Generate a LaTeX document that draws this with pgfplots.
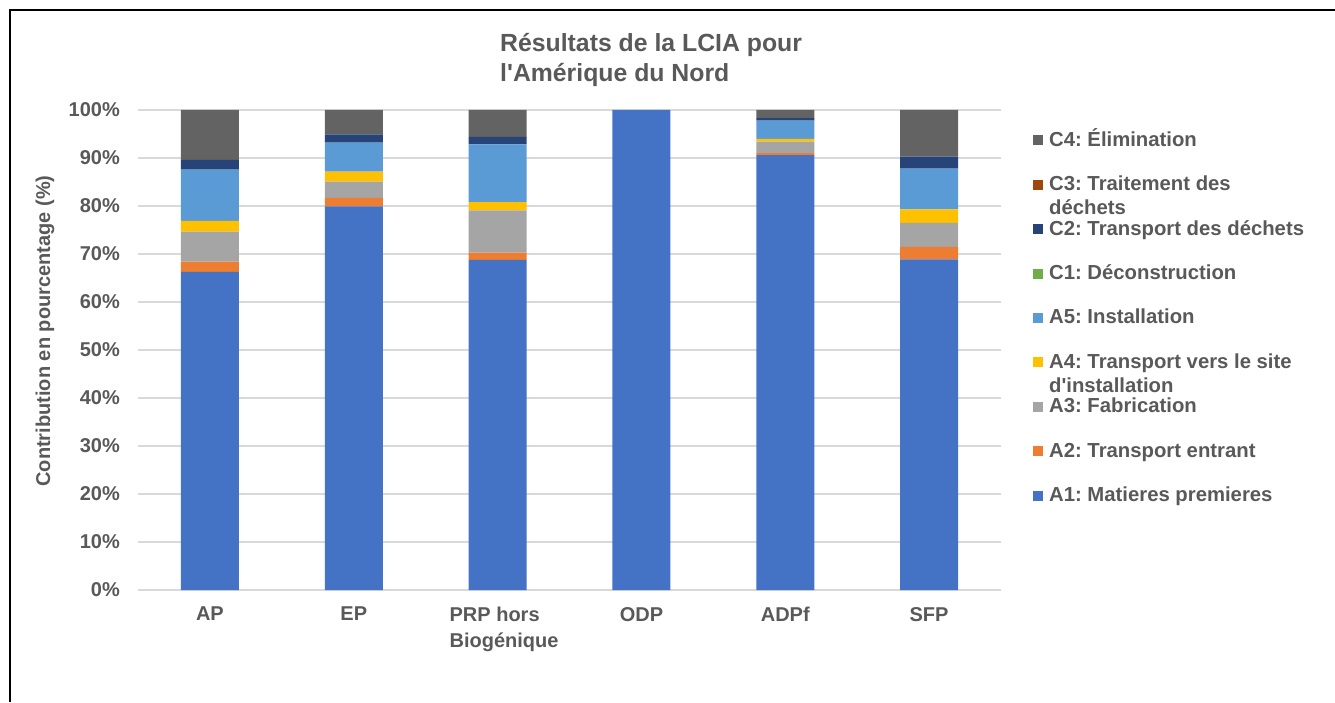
\documentclass[border=0pt]{standalone}
\usepackage{fontspec}
\setmainfont{Liberation Sans}
\usepackage{pgfplots}
\pgfplotsset{compat=1.18}
\frenchspacing
\definecolor{txt}{HTML}{595959}
\definecolor{gridc}{HTML}{D9D9D9}
\definecolor{cA1}{HTML}{4472C4}
\definecolor{cA2}{HTML}{ED7D31}
\definecolor{cA3}{HTML}{A5A5A5}
\definecolor{cA4}{HTML}{FFC000}
\definecolor{cA5}{HTML}{5B9BD5}
\definecolor{cC1}{HTML}{70AD47}
\definecolor{cC2}{HTML}{264478}
\definecolor{cC3}{HTML}{9E480E}
\definecolor{cC4}{HTML}{636363}
\begin{document}
\begin{tikzpicture}
\path[use as bounding box] (0,0) rectangle (1335pt,702pt);
\draw[black, line width=1.5pt] (10pt,0pt) -- (10pt,692pt) -- (1335pt,692pt);
\node[anchor=base west, inner sep=0pt, text=txt, font=\fontsize{24.8}{29}\selectfont\bfseries] at (500pt,650pt) {Résultats de la LCIA pour};
\node[anchor=base west, inner sep=0pt, text=txt, font=\fontsize{24.8}{29}\selectfont\bfseries] at (500pt,620pt) {l\textquotesingle Amérique du Nord};
\node[rotate=90, inner sep=0pt, text=txt, font=\fontsize{20}{24}\selectfont\bfseries] at (45pt,371pt) {Contribution en pourcentage (\%)};
\begin{axis}[
  at={(138pt,112pt)}, anchor=south west,
  scale only axis, width=863pt, height=480pt,
  ybar stacked, bar width=58pt,
  xmin=-0.5, xmax=5.5, ymin=0, ymax=100,
  xtick={0,1,2,3,4,5},
  xticklabels={AP,EP,{\hspace*{13pt}\raisebox{0pt}[\dimexpr\height-3.8pt\relax]{\begin{tabular}{@{}l@{}}PRP hors\\Biogénique\end{tabular}}},ODP,ADPf,SFP},
  ytick={0,10,20,30,40,50,60,70,80,90,100},
  yticklabels={0\%,10\%,20\%,30\%,40\%,50\%,60\%,70\%,80\%,90\%,100\%},
  ymajorgrids, grid style={color=gridc, line width=1.3pt},
  axis line style={draw=none}, major tick length=0pt,
  tick label style={font=\fontsize{20}{26}\selectfont\bfseries, text=txt},
  yticklabel style={anchor=east, inner sep=0pt, xshift=-18pt},
  xticklabel style={anchor=north, align=center, inner sep=0pt, yshift=-17pt},
  legend cell align=left, reverse legend,
  legend style={at={(1.037,0.956)}, anchor=north west, draw=none, fill=none,
    inner sep=0pt, font=\fontsize{20.3}{24}\selectfont\bfseries, text=txt,
    row sep=24.4pt, column sep=6pt,
    nodes={inner sep=0pt, text height=15pt, text depth=5pt, anchor=base west}},
  legend image code/.code={\fill[#1] (0pt,1pt) rectangle (10pt,11pt);},
]
\addplot[fill=cA1, draw=none] coordinates {(0,66.3) (1,79.9) (2,68.75) (3,100) (4,90.6) (5,68.9)};
\addplot[fill=cA2, draw=none] coordinates {(0,2.1) (1,1.8) (2,1.55) (3,0) (4,0.4) (5,2.6)};
\addplot[fill=cA3, draw=none] coordinates {(0,6.25) (1,3.4) (2,8.8) (3,0) (4,2.4) (5,5.0)};
\addplot[fill=cA4, draw=none] coordinates {(0,2.25) (1,2.05) (2,1.7) (3,0) (4,0.6) (5,2.8)};
\addplot[fill=cA5, draw=none] coordinates {(0,10.7) (1,6.05) (2,12.05) (3,0) (4,3.8) (5,8.5)};
\addplot[fill=cC1, draw=none] coordinates {(0,0) (1,0) (2,0) (3,0) (4,0) (5,0)};
\addplot[fill=cC2, draw=none] coordinates {(0,2.0) (1,1.7) (2,1.55) (3,0) (4,0.5) (5,2.5)};
\addplot[fill=cC3, draw=none] coordinates {(0,0) (1,0) (2,0) (3,0) (4,0) (5,0)};
\addplot[fill=cC4, draw=none] coordinates {(0,10.4) (1,5.1) (2,5.6) (3,0) (4,1.7) (5,9.7)};
\legend{A1: Matieres premieres, A2: Transport entrant, A3: Fabrication,
  {\begin{tabular}[t]{@{}l@{}}A4: Transport vers le site\\d\textquotesingle installation\end{tabular}},
  A5: Installation, C1: Déconstruction, C2: Transport des déchets,
  {\begin{tabular}[t]{@{}l@{}}C3: Traitement des\\déchets\end{tabular}},
  C4: Élimination}
\end{axis}
\end{tikzpicture}
\end{document}
